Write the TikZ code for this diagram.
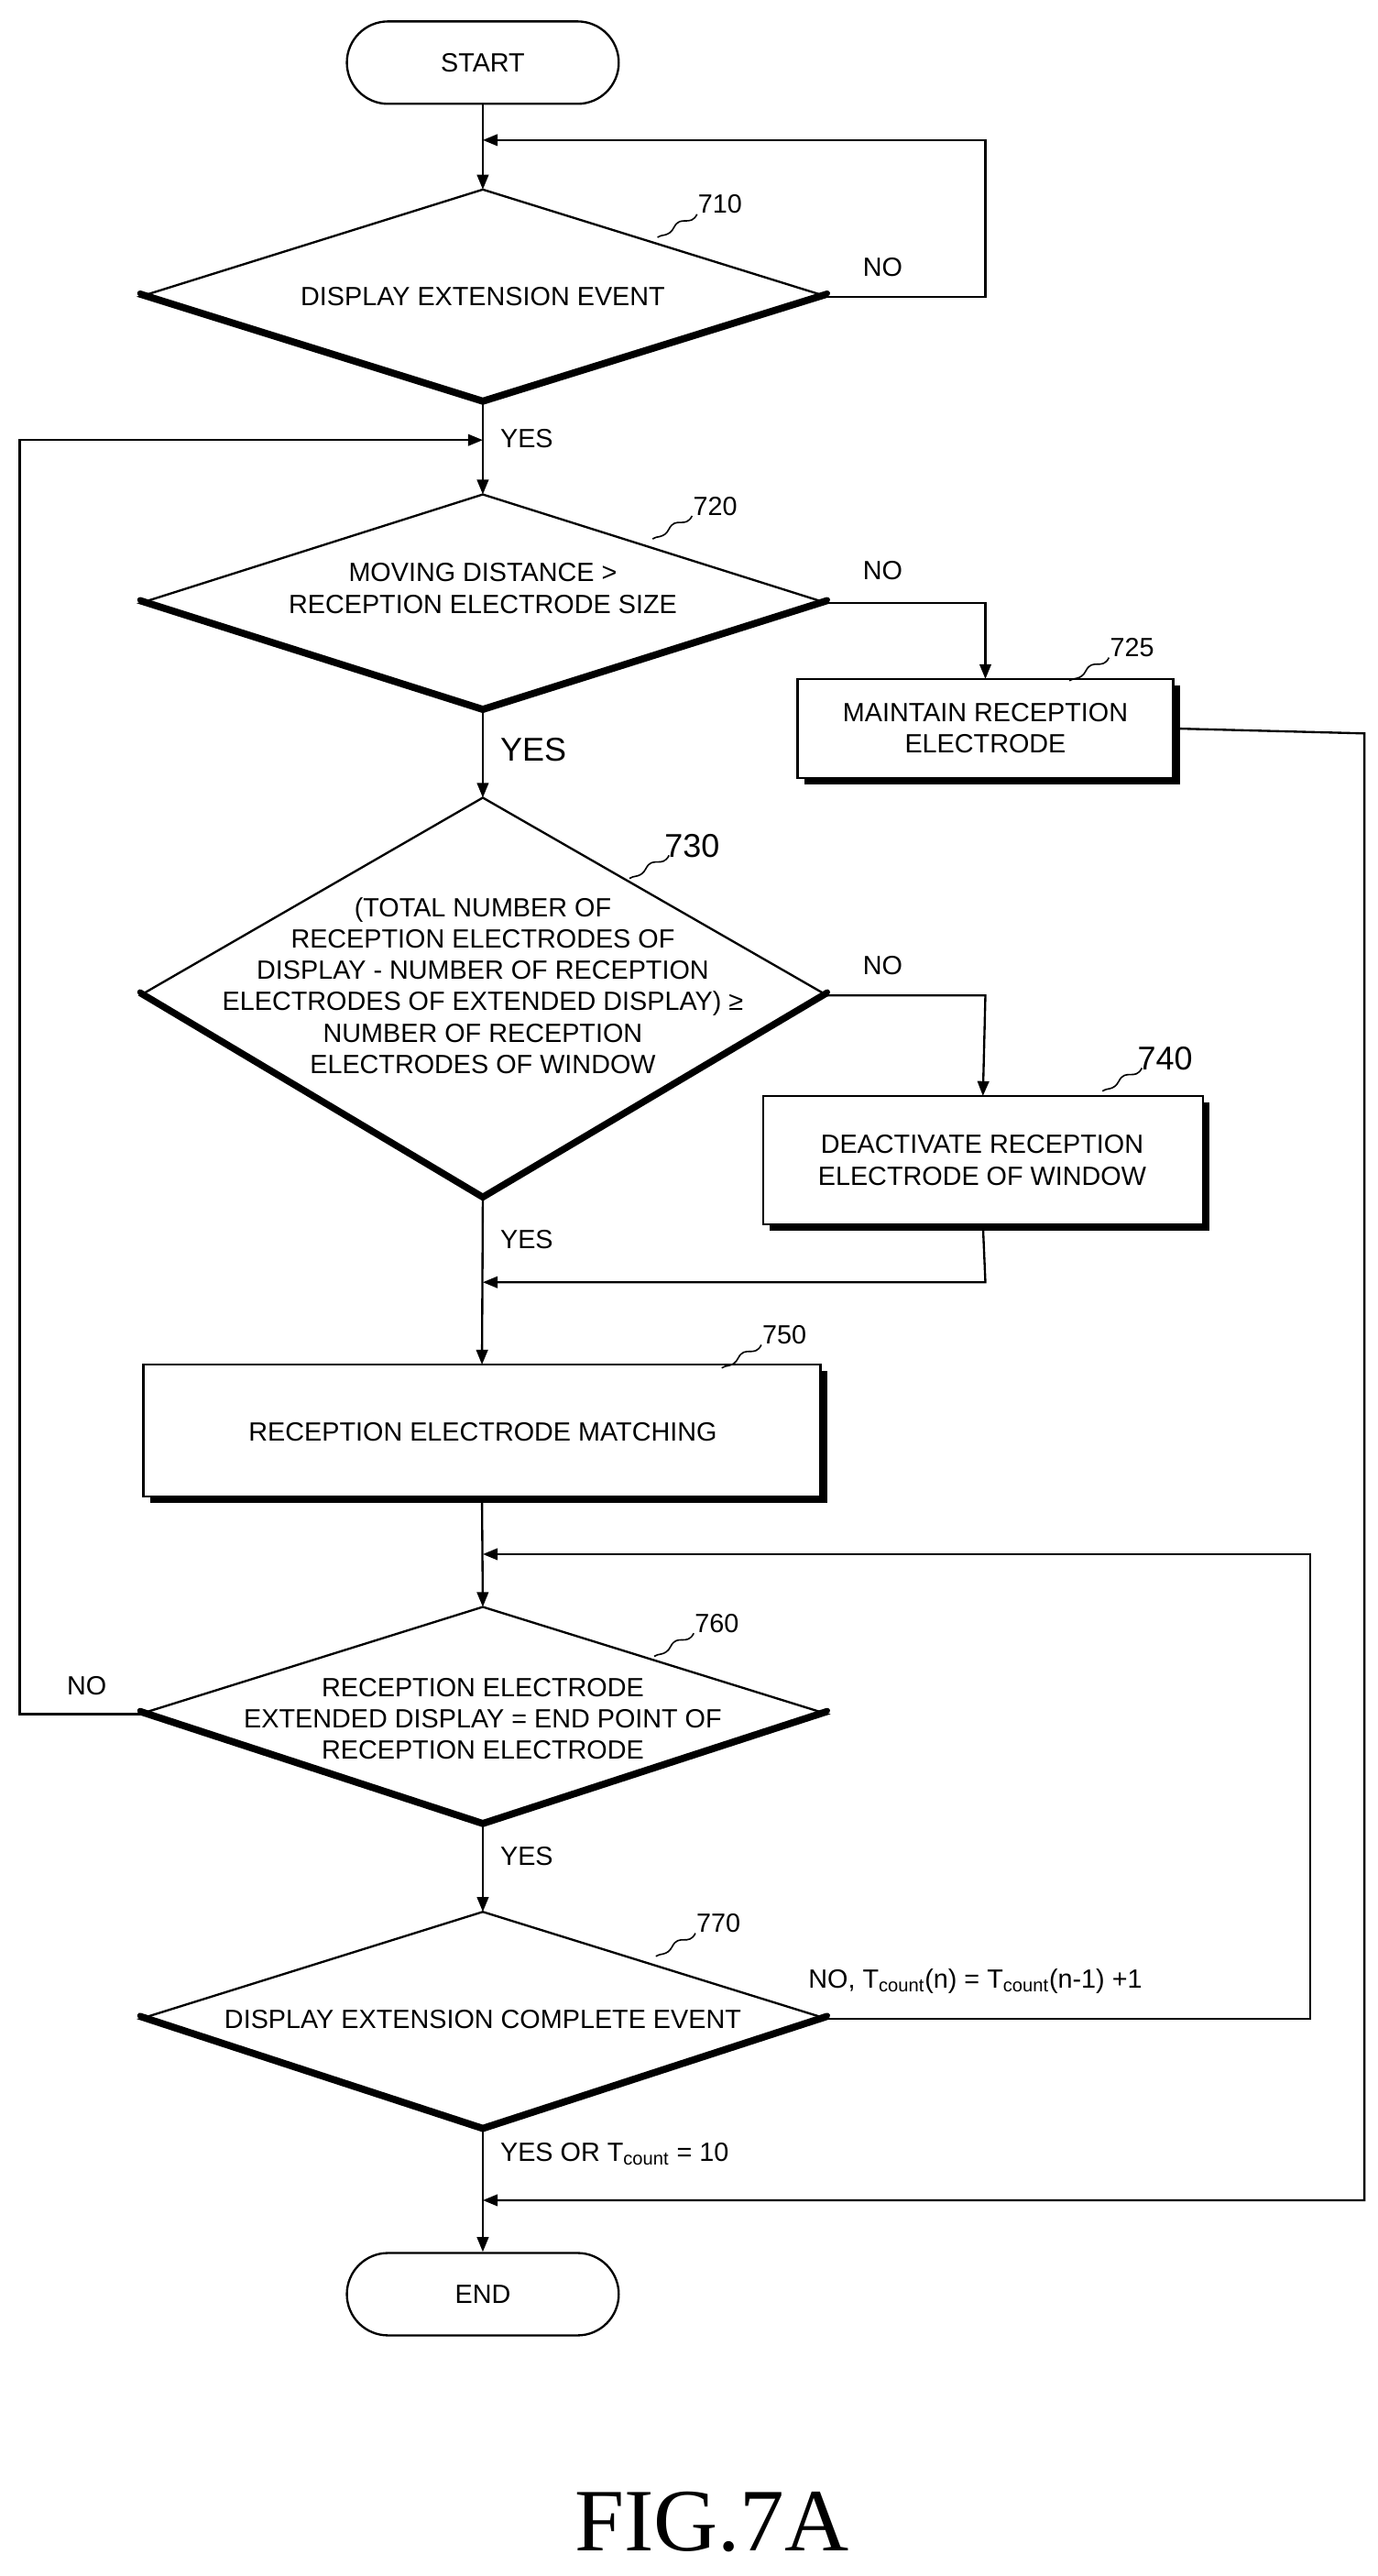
\documentclass[tikz,border=0pt]{standalone}
\usepackage{fontspec}
\setmainfont{Liberation Sans}
\newfontfamily\figfont{Liberation Serif}
\usetikzlibrary{arrows.meta}
\begin{document}
\begin{tikzpicture}[x=1pt,y=-1pt,line width=1.3pt,
  txt/.style={font=\fontsize{16}{19}\selectfont,align=center,inner sep=0},
  lbl/.style={font=\fontsize{16}{19}\selectfont,inner sep=0,anchor=west},
  arr/.style={-{Triangle[length=9pt,width=7pt]}},
  term/.style={draw,rounded corners=25pt,minimum width=165pt,minimum height=50pt,font=\fontsize{16}{19}\selectfont}]
\useasboundingbox (0,0) rectangle (836,1563);
\newcommand{\dia}[4]{% name, cy, top, bottom
  \coordinate (#1t) at (293,#3); \coordinate (#1b) at (293,#4);
  \coordinate (#1l) at (85,#2); \coordinate (#1r) at (502,#2);
  \draw (#1t)--(#1r)--(#1b)--(#1l)--cycle;
  \draw[line width=3.5pt,line cap=round] ([yshift=2pt]#1l)--([yshift=2pt]#1b)--([yshift=2pt]#1r);}
\newcommand{\bx}[5]{% name, x1,y1,x2,y2
  \fill (#2+4,#3+4) rectangle (#4+4,#5+4);
  \draw[fill=white] (#2,#3) rectangle (#4,#5);
  \coordinate (#1n) at ({(#2+#4)/2},#3); \coordinate (#1s) at ({(#2+#4)/2},#5);
  \coordinate (#1e) at (#4,{(#3+#5)/2});}
\newcommand{\refn}[4]{% x,y of number, text, size
  \node[font=\fontsize{#4}{#4}\selectfont,inner sep=0] (r#3) at (#1,#2) {#3};
  \draw[line width=0.9pt] (#1-14,#2+6) .. controls (#1-18,#2+14) and (#1-24,#2+6) .. (#1-28,#2+14) .. controls (#1-31,#2+20) and (#1-36,#2+18) .. (#1-38,#2+20);}
% START
\node[term] (start) at (293,38) {START};
\dia{a}{180}{115}{245}
\node[txt] (ta) at (293,180) {DISPLAY EXTENSION EVENT};
\refn{437}{124}{710}{16}
\draw[arr] (start.south)--(at);
\coordinate (a1) at (598,180); \coordinate (a2) at (598,85); \coordinate (a3) at (293,85);
\draw[arr] (ar)--(a1)--(a2)--(a3);
\node[lbl] (na) at (523,162) {NO};
% 720
\dia{b}{366}{300}{432}
\node[txt] (tb) at (293,357) {MOVING DISTANCE >\\RECEPTION ELECTRODE SIZE};
\refn{434}{307}{720}{16}
\draw[arr] (ab)--(bt);
\node[lbl] (ya) at (303,266) {YES};
% 725
\bx{c}{484}{412}{712}{472}
\node[txt] (tc) at (598,442) {MAINTAIN RECEPTION\\ELECTRODE};
\refn{687}{393}{725}{16}
\coordinate (b1) at (598,366);
\draw[arr] (br)--(b1)--(cn);
\node[lbl] (nb) at (523,346) {NO};
% 730
\dia{d}{604}{484}{728}
\node[txt] (td) at (293,598) {(TOTAL NUMBER OF\\RECEPTION ELECTRODES OF\\DISPLAY - NUMBER OF RECEPTION\\ELECTRODES OF EXTENDED DISPLAY) ≥\\NUMBER OF RECEPTION\\ELECTRODES OF WINDOW};
\refn{420}{513}{730}{20}
\draw[arr] (bb)--(dt);
\node[lbl,font=\fontsize{20}{20}\selectfont] (yb) at (303,455) {YES};
% 740
\bx{e}{463}{665}{730}{743}
\node[txt] (te) at (596,704) {DEACTIVATE RECEPTION\\ELECTRODE OF WINDOW};
\refn{707}{642}{740}{20}
\coordinate (d1) at (598,604);
\draw[arr] (dr)--(d1)--(en);
\node[lbl] (nd) at (523,586) {NO};
% 750
\bx{f}{87}{828}{498}{908}
\node[txt] (tf) at (293,869) {RECEPTION ELECTRODE MATCHING};
\refn{476}{810}{750}{16}
\coordinate (e1) at (598,778); \coordinate (e2) at (293,778);
\draw[arr] (es)--(e1)--(e2);
\draw[arr] (db)--(fn);
\node[lbl] (yd) at (303,752) {YES};
% 760
\dia{g}{1040}{975}{1108}
\node[txt] (tg) at (293,1043) {RECEPTION ELECTRODE\\EXTENDED DISPLAY = END POINT OF\\RECEPTION ELECTRODE};
\refn{435}{985}{760}{16}
\draw[arr] (fs)--(gt);
\coordinate (g1) at (12,1040); \coordinate (g2) at (12,267); \coordinate (g3) at (293,267);
\draw[arr] (gl)--(g1)--(g2)--(g3);
\node[lbl] (ng) at (40,1023) {NO};
% 770
\dia{h}{1225}{1160}{1293}
\node[txt] (th) at (293,1225) {DISPLAY EXTENSION COMPLETE EVENT};
\refn{436}{1167}{770}{16}
\draw[arr] (gb)--(ht);
\node[lbl] (yg) at (303,1126) {YES};
\coordinate (h1) at (795,1225); \coordinate (h2) at (795,943); \coordinate (h3) at (293,943);
\draw[arr] (hr)--(h1)--(h2)--(h3);
\node[lbl] (nh) at (490,1202) {NO, T$_{\mathrm{count}}$(n) = T$_{\mathrm{count}}$(n-1) +1};
% END
\node[term] (end) at (293,1392) {END};
\draw[arr] (hb)--(end.north);
\node[lbl] (yh) at (303,1307) {YES OR T$_{\mathrm{count}}$ = 10};
\coordinate (c1) at (828,445); \coordinate (c2) at (828,1335); \coordinate (c3) at (293,1335);
\draw[arr] (ce)--(c1)--(c2)--(c3);
% caption
\node[font=\figfont\fontsize{54}{54}\selectfont,inner sep=0] (cap) at (432,1530) {FIG.7A};
\end{tikzpicture}
\end{document}
